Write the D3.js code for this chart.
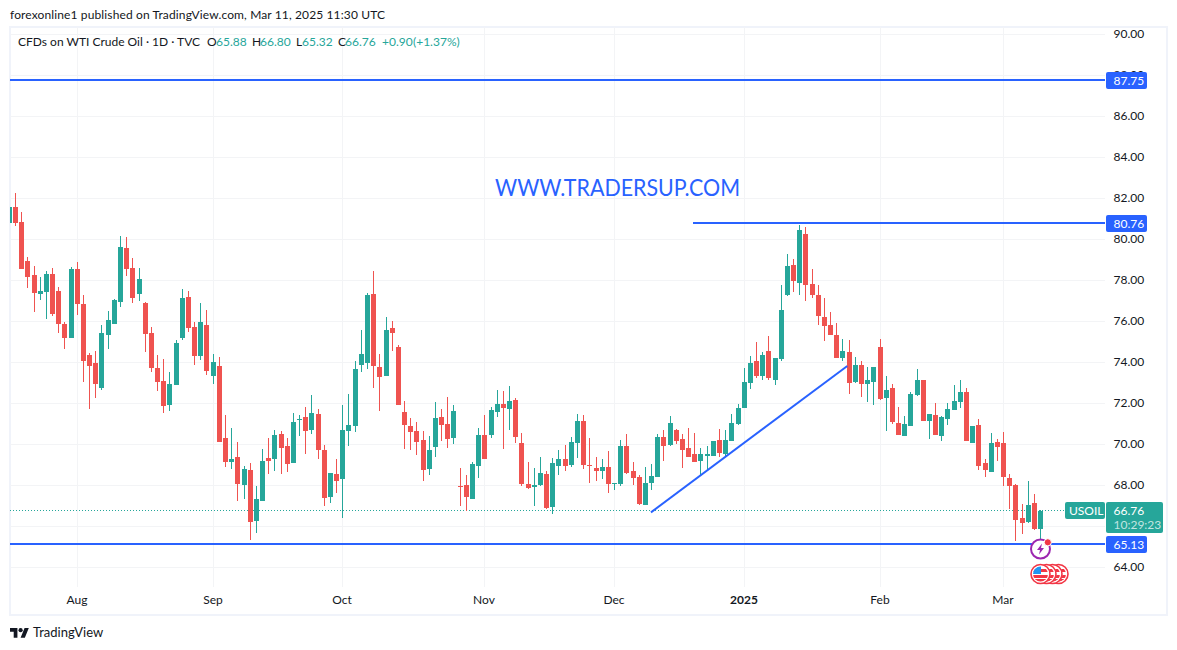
<!DOCTYPE html>
<html>
<head>
<meta charset="utf-8">
<title>WTI Crude Oil daily chart</title>
<script src="https://cdn.jsdelivr.net/npm/d3@7"></script>
<style>
  html, body { margin: 0; padding: 0; background: #fff; }
  svg { display: block; }
  text { font-family: "Lato", "Noto Sans", sans-serif; }
</style>
</head>
<body>
<svg id="chart" width="1177" height="650"></svg>
<script>
// Daily session values, oldest first.
const opens = [
  80.80,81.58,80.85,78.94,78.26,77.33,77.43,78.31,77.48,75.87,
  75.19,78.55,76.85,74.36,73.97,72.75,75.33,75.87,76.94,79.58,
  78.60,77.33,76.89,75.43,73.72,73.09,71.92,72.89,75.19,77.19,
  75.72,74.31,75.82,73.33,73.82,70.31,69.14,69.38,68.02,68.75,
  66.26,67.24,69.33,69.28,70.50,69.92,69.09,71.19,71.33,70.70,
  71.48,69.72,67.43,68.55,68.31,70.65,70.89,73.87,73.97,77.33,
  73.77,73.33,75.67,74.75,71.58,70.89,70.65,70.21,68.80,69.87,
  71.33,70.99,70.31,67.97,68.02,67.33,68.94,70.46,70.46,71.58,
  71.97,71.72,72.16,70.07,68.07,67.92,68.02,68.55,66.94,68.94,
  69.28,68.99,70.07,71.14,68.99,68.85,68.70,68.89,68.07,68.07,
  69.92,68.70,68.41,67.04,68.11,68.41,70.36,69.97,70.70,70.26,
  69.82,69.53,69.19,69.43,69.43,70.21,69.56,70.15,71.02,71.76,
  73.02,74.05,73.32,74.54,73.17,74.15,77.27,78.78,77.90,80.29,
  77.85,77.27,76.24,75.85,75.32,74.24,74.49,73.07,73.90,72.93,
  73.07,74.78,72.29,72.75,71.04,70.41,70.89,72.41,73.14,71.14,
  71.43,70.41,71.24,71.67,72.07,72.55,70.07,70.94,69.09,68.65,
  70.11,70.07,68.36,68.02,66.41,66.21,67.14,65.88
];
const highs = [
  81.70,82.26,81.33,79.14,78.70,78.16,78.46,78.60,77.67,75.97,
  78.65,78.89,77.28,74.46,74.55,75.82,76.50,77.09,80.16,80.11,
  79.09,78.60,76.94,75.72,74.36,74.16,73.53,75.09,77.58,77.48,
  75.97,76.89,76.55,74.41,74.26,71.43,70.80,70.11,68.94,69.09,
  67.97,69.77,70.31,70.70,70.65,70.31,71.53,71.43,71.82,72.41,
  71.72,69.97,68.60,69.28,71.92,72.46,74.07,75.58,77.38,78.46,
  74.41,76.21,76.02,74.85,72.11,71.28,71.09,70.65,70.41,72.07,
  71.72,72.31,71.92,68.85,68.50,69.14,70.80,71.43,71.82,72.65,
  72.60,72.85,72.26,70.55,69.14,68.85,69.38,68.70,69.33,69.72,
  69.97,70.36,71.48,71.43,70.31,69.38,69.28,69.67,68.11,70.21,
  70.50,69.14,68.50,68.89,69.04,70.50,70.70,71.38,70.75,70.50,
  70.80,70.55,69.82,69.92,70.16,70.75,70.73,71.51,72.00,73.71,
  74.34,74.98,74.49,75.27,74.24,77.80,79.27,79.07,80.73,80.59,
  78.54,77.80,77.17,76.44,75.95,75.17,75.12,74.29,74.05,73.80,
  73.76,75.17,73.32,72.94,71.82,71.38,72.55,73.67,73.14,71.48,
  72.02,71.38,72.02,72.89,73.14,72.75,70.89,71.24,69.28,70.55,
  70.26,70.60,68.55,68.07,67.09,68.21,67.58,66.80
];
const lows = [
  80.70,80.65,78.55,77.63,76.46,77.04,76.11,76.26,75.43,74.65,
  75.19,76.31,73.04,71.72,72.26,72.65,74.65,75.87,76.70,78.21,
  76.89,76.99,74.50,73.53,72.60,71.53,71.63,72.89,75.09,75.48,
  73.87,74.11,73.38,72.94,70.11,68.89,68.80,67.24,67.33,65.33,
  65.67,67.24,68.55,68.70,68.55,68.65,69.09,70.41,69.53,70.50,
  69.28,66.99,67.14,67.63,66.41,69.92,70.60,73.53,73.67,72.75,
  71.63,73.33,74.55,71.92,69.77,69.72,69.48,68.21,68.50,69.38,
  70.16,69.82,70.02,66.99,66.78,67.33,68.36,69.28,70.31,71.33,
  69.77,70.70,70.07,67.97,67.82,66.99,67.97,66.85,66.60,68.50,
  68.70,68.89,69.33,68.80,68.11,68.21,68.31,67.63,67.77,67.97,
  68.55,68.02,67.04,67.04,67.77,68.41,69.19,69.92,70.02,68.85,
  69.38,69.14,68.50,68.75,69.43,69.38,69.46,70.15,70.93,71.76,
  72.73,73.22,73.17,73.17,72.88,74.05,77.22,77.46,77.27,76.98,
  77.17,75.85,75.07,75.32,74.20,74.05,72.44,72.98,72.34,72.05,
  71.95,72.15,70.68,70.99,70.46,70.41,70.89,72.36,71.14,70.26,
  70.46,70.16,70.94,71.67,71.77,70.16,70.07,68.75,68.41,68.65,
  69.19,67.97,66.85,65.28,65.63,66.16,65.82,65.32
];
const closes = [
  81.58,80.80,78.55,78.16,77.38,77.48,78.31,76.36,75.87,75.19,
  78.55,76.85,74.07,73.82,72.94,75.43,76.07,77.04,79.63,78.55,
  77.14,78.07,75.38,73.72,73.04,71.87,72.94,74.94,77.14,75.67,
  74.31,75.97,73.58,74.02,70.11,69.14,69.28,68.07,68.80,66.21,
  67.33,69.19,69.19,70.46,69.82,69.04,71.09,71.24,70.65,71.53,
  69.72,67.38,68.60,68.21,70.70,70.94,73.67,74.41,77.28,73.82,
  73.28,75.58,75.43,71.92,70.94,70.60,70.11,68.75,69.72,71.28,
  70.94,70.26,71.63,67.92,67.43,69.04,70.46,69.28,71.67,71.97,
  71.77,72.11,70.36,68.07,67.87,68.02,68.60,66.89,69.09,69.28,
  68.94,70.11,71.14,68.99,68.94,68.70,68.89,68.07,68.11,69.92,
  68.60,68.36,67.09,68.11,68.46,70.36,69.92,71.04,70.16,69.72,
  69.38,69.14,69.53,69.53,70.16,69.58,70.20,71.07,71.80,73.07,
  74.00,73.32,74.39,73.22,74.24,76.54,78.73,78.00,80.44,77.80,
  77.27,76.29,75.80,75.32,74.20,74.54,72.98,73.90,72.93,73.17,
  73.76,72.20,72.68,71.09,70.46,70.99,72.46,73.14,71.14,71.48,
  70.46,71.33,71.72,72.11,72.55,70.16,70.89,68.94,68.75,70.07,
  69.87,68.41,67.97,66.31,66.16,67.04,65.86,66.76
];

// Axis ticks: month starts are bar numbers, prices are every two dollars.
const monthBars = [11, 33, 54, 77, 98, 119, 141, 161];
const monthLabels = ["Aug", "Sep", "Oct", "Nov", "Dec", "2025", "Feb", "Mar"];
const priceTicks = [64, 66, 68, 70, 72, 74, 76, 78, 80, 82, 84, 86, 88, 90];
const shownPriceTicks = [64, 68, 70, 72, 74, 76, 78, 80, 82, 84, 86, 88, 90];

// Drawn levels and the rising trend line (bar number, price).
const levelTop = 87.75;
const levelPeak = 80.76;
const levelBottom = 65.13;
const peakStartBar = 110.7;
const trendFrom = [103.9, 66.69];
const trendTo = [135.7, 73.83];

// Header values.
const publishedLine = "forexonline1 published on TradingView.com, Mar 11, 2025 11:30 UTC";
const symbolLine = "CFDs on WTI Crude Oil · 1D · TVC";
const ohlcNames = ["O", "H", "L", "C"];
const ohlcValues = ["65.88", "66.80", "65.32", "66.76"];
const changeText = "+0.90";
const changePct = "(+1.37%)";
const lastPrice = 66.76;
const countdown = "10:29:23";
const watermark = "WWW.TRADERSUP.COM";

const UP = "#26a69a", DOWN = "#ef5350", BLUE = "#2962ff";
const GRID = "#f3f4f6", FRAME = "#f0f3fa", INK = "#131722";
const FONT = 12;

const svg = d3.select("#chart");
const defs = svg.append("defs");
defs.append("clipPath").attr("id", "pane")
  .append("rect").attr("x", 10).attr("y", 27).attr("width", 1095).attr("height", 560);

const x = d3.scaleLinear().domain([0, 167]).range([9.375, 1040.6]);
const y = d3.scaleLinear().domain([64, 90]).range([567.5, 34.5]);
const px = i => Math.floor(x(i));          // left pixel of a one-pixel wick
const rowY = p => Math.floor(y(p));

// Frame around the pane and both axes.
svg.append("rect").attr("x", 10).attr("y", 26.5).attr("width", 1157).attr("height", 588)
  .attr("fill", "none").attr("stroke", FRAME).attr("stroke-width", 2)
  .attr("shape-rendering", "crispEdges");

// Grid.
const gridG = svg.append("g").attr("shape-rendering", "crispEdges").attr("fill", GRID);
gridG.selectAll(".gy").data(priceTicks).join("rect")
  .attr("x", 10).attr("width", 1095).attr("y", d => rowY(d)).attr("height", 1);
gridG.selectAll(".gx").data(monthBars).join("rect")
  .attr("x", d => px(d)).attr("width", 1).attr("y", 27).attr("height", 560);

// Price axis.
const yAxis = d3.axisRight(y).tickValues(shownPriceTicks).tickSize(0).tickPadding(0)
  .tickFormat(d3.format(".2f"));
const yG = svg.append("g").attr("transform", "translate(1113.5,-1)").call(yAxis);
yG.select(".domain").remove();
yG.selectAll("text").attr("font-size", FONT).attr("fill", INK);

// Time axis.
const timeX = d3.scaleOrdinal().domain(monthBars).range(monthBars.map(d => px(d) + 0.5));
const xAxis = d3.axisBottom(timeX).tickValues(monthBars).tickSize(0).tickPadding(0)
  .tickFormat((d, i) => monthLabels[i]);
const xG = svg.append("g").attr("transform", "translate(-1,595)").call(xAxis);
xG.select(".domain").remove();
xG.selectAll("text").attr("font-size", FONT).attr("fill", INK)
  .attr("font-weight", (d, i) => monthLabels[i] === "2025" ? 700 : 400);

// Dotted last-price line.
svg.append("line").attr("x1", 10).attr("x2", 1065)
  .attr("y1", rowY(lastPrice) + 0.5).attr("y2", rowY(lastPrice) + 0.5)
  .attr("stroke", UP).attr("stroke-width", 1).attr("stroke-dasharray", "1 2")
  .attr("shape-rendering", "crispEdges");

// Candles.
const candles = svg.append("g").attr("clip-path", "url(#pane)").attr("shape-rendering", "crispEdges");
const bars = candles.selectAll("g").data(opens.map((o, i) => i)).join("g")
  .attr("fill", i => closes[i] >= opens[i] ? UP : DOWN);
bars.append("rect")
  .attr("x", i => px(i)).attr("width", 1)
  .attr("y", i => Math.round(y(highs[i])))
  .attr("height", i => Math.max(1, Math.round(y(lows[i])) - Math.round(y(highs[i]))));
bars.append("rect")
  .attr("x", i => px(i) - 2).attr("width", 5)
  .attr("y", i => Math.round(y(Math.max(opens[i], closes[i]))))
  .attr("height", i => Math.max(1, Math.round(y(Math.min(opens[i], closes[i]))) - Math.round(y(Math.max(opens[i], closes[i])))));

// Horizontal levels and trend line.
const drawing = svg.append("g").attr("stroke", BLUE).attr("stroke-width", 2);
[[10, levelTop], [x(peakStartBar), levelPeak], [10, levelBottom]].forEach(([from, p]) => {
  drawing.append("line").attr("x1", from).attr("x2", 1105)
    .attr("y1", rowY(p)).attr("y2", rowY(p)).attr("shape-rendering", "crispEdges");
});
drawing.append("line")
  .attr("x1", x(trendFrom[0])).attr("y1", y(trendFrom[1]))
  .attr("x2", x(trendTo[0])).attr("y2", y(trendTo[1]));

// Site address written across the pane.
svg.append("text").attr("x", 495).attr("y", 196).attr("font-size", 23)
  .attr("textLength", 245).attr("lengthAdjust", "spacingAndGlyphs")
  .attr("fill", BLUE).text(watermark);

// Price tags on the axis.
function tag(x0, w, yTop, h, fill) {
  svg.append("rect").attr("x", x0).attr("y", yTop).attr("width", w).attr("height", h)
    .attr("rx", 2).attr("fill", fill);
}
function tagText(tx, ty, s, opacity) {
  svg.append("text").attr("x", tx).attr("y", ty).attr("font-size", FONT)
    .attr("fill", "#fff").attr("fill-opacity", opacity || 1).attr("dominant-baseline", "central").text(s);
}
[levelTop, levelPeak, levelBottom].forEach(p => {
  const c = rowY(p) + 0.5;
  tag(1106, 41, c - 8.5, 17, BLUE);
  tagText(1113.5, c, p.toFixed(2));
});
tag(1065, 40, 502, 17, UP);
tagText(1069, 510.5, "USOIL");
tag(1106, 57, 502, 31, UP);
tagText(1113.5, 510.5, lastPrice.toFixed(2));
tagText(1113.5, 524.5, countdown, 0.72);

// Header lines.
svg.append("text").attr("x", 10).attr("y", 19).attr("font-size", FONT).attr("fill", INK)
  .attr("textLength", 375).attr("lengthAdjust", "spacing").text(publishedLine);
const legend = svg.append("g").attr("font-size", FONT);
legend.append("text").attr("x", 18).attr("y", 46).attr("fill", INK).text(symbolLine);
const nameX = [207, 252, 296, 338], valueX = [216, 260, 302, 345];
ohlcNames.forEach((n, i) => {
  legend.append("text").attr("x", nameX[i]).attr("y", 46).attr("fill", INK).text(n);
  legend.append("text").attr("x", valueX[i]).attr("y", 46).attr("fill", UP).text(ohlcValues[i]);
});
legend.append("text").attr("x", 382).attr("y", 46).attr("fill", UP).text(changeText);
legend.append("text").attr("x", 413).attr("y", 46).attr("fill", UP).text(changePct);

// Flash-news marker under the last bar.
const flash = svg.append("g").attr("transform", `translate(${px(167) + 0.5},549)`);
flash.append("circle").attr("r", 9.5).attr("fill", "#fff").attr("stroke", "#9c27b0").attr("stroke-width", 2);
flash.append("path").attr("d", "M1.5,-5.5 L-3.5,1 L-0.5,1 L-1.5,5.5 L3.5,-1 L0.5,-1 Z").attr("fill", "#9c27b0");
flash.append("circle").attr("cx", 7.3).attr("cy", -6.7).attr("r", 3.6).attr("fill", "#f23645").attr("stroke", "#fff").attr("stroke-width", 1);

// Stack of US economic-event flags, the leftmost one on top.
const flagColumns = [3, 2, 1, 0];
defs.append("clipPath").attr("id", "flagDisc").append("circle").attr("r", 7.5);
flagColumns.forEach(k => {
  const f = svg.append("g").attr("transform", `translate(${px(167) + 0.5 + k * 6},574)`);
  f.append("circle").attr("r", 10).attr("fill", "#fff");
  const inner = f.append("g").attr("clip-path", "url(#flagDisc)").attr("shape-rendering", "crispEdges");
  [-5, 1, 5].forEach(sy => inner.append("rect").attr("x", -10).attr("width", 20).attr("y", sy).attr("height", 2.5).attr("fill", "#f23645"));
  inner.append("rect").attr("x", -8).attr("y", -8).attr("width", 8).attr("height", 8).attr("fill", "#2196f3");
  f.append("circle").attr("r", 9.5).attr("fill", "none").attr("stroke", "#f23645").attr("stroke-width", 1.6);
});

// Brand mark in the footer.
const brand = svg.append("g").attr("transform", "translate(10,626) scale(0.53)").attr("fill", INK);
brand.append("path").attr("d", "M14 22H7V11H0V4h14v18zM28 22h-8l7.5-18h8L28 22z");
brand.append("circle").attr("cx", 20).attr("cy", 8).attr("r", 4);
svg.append("text").attr("x", 33).attr("y", 637).attr("font-size", 13).attr("fill", INK).text("TradingView");
</script>
</body>
</html>
